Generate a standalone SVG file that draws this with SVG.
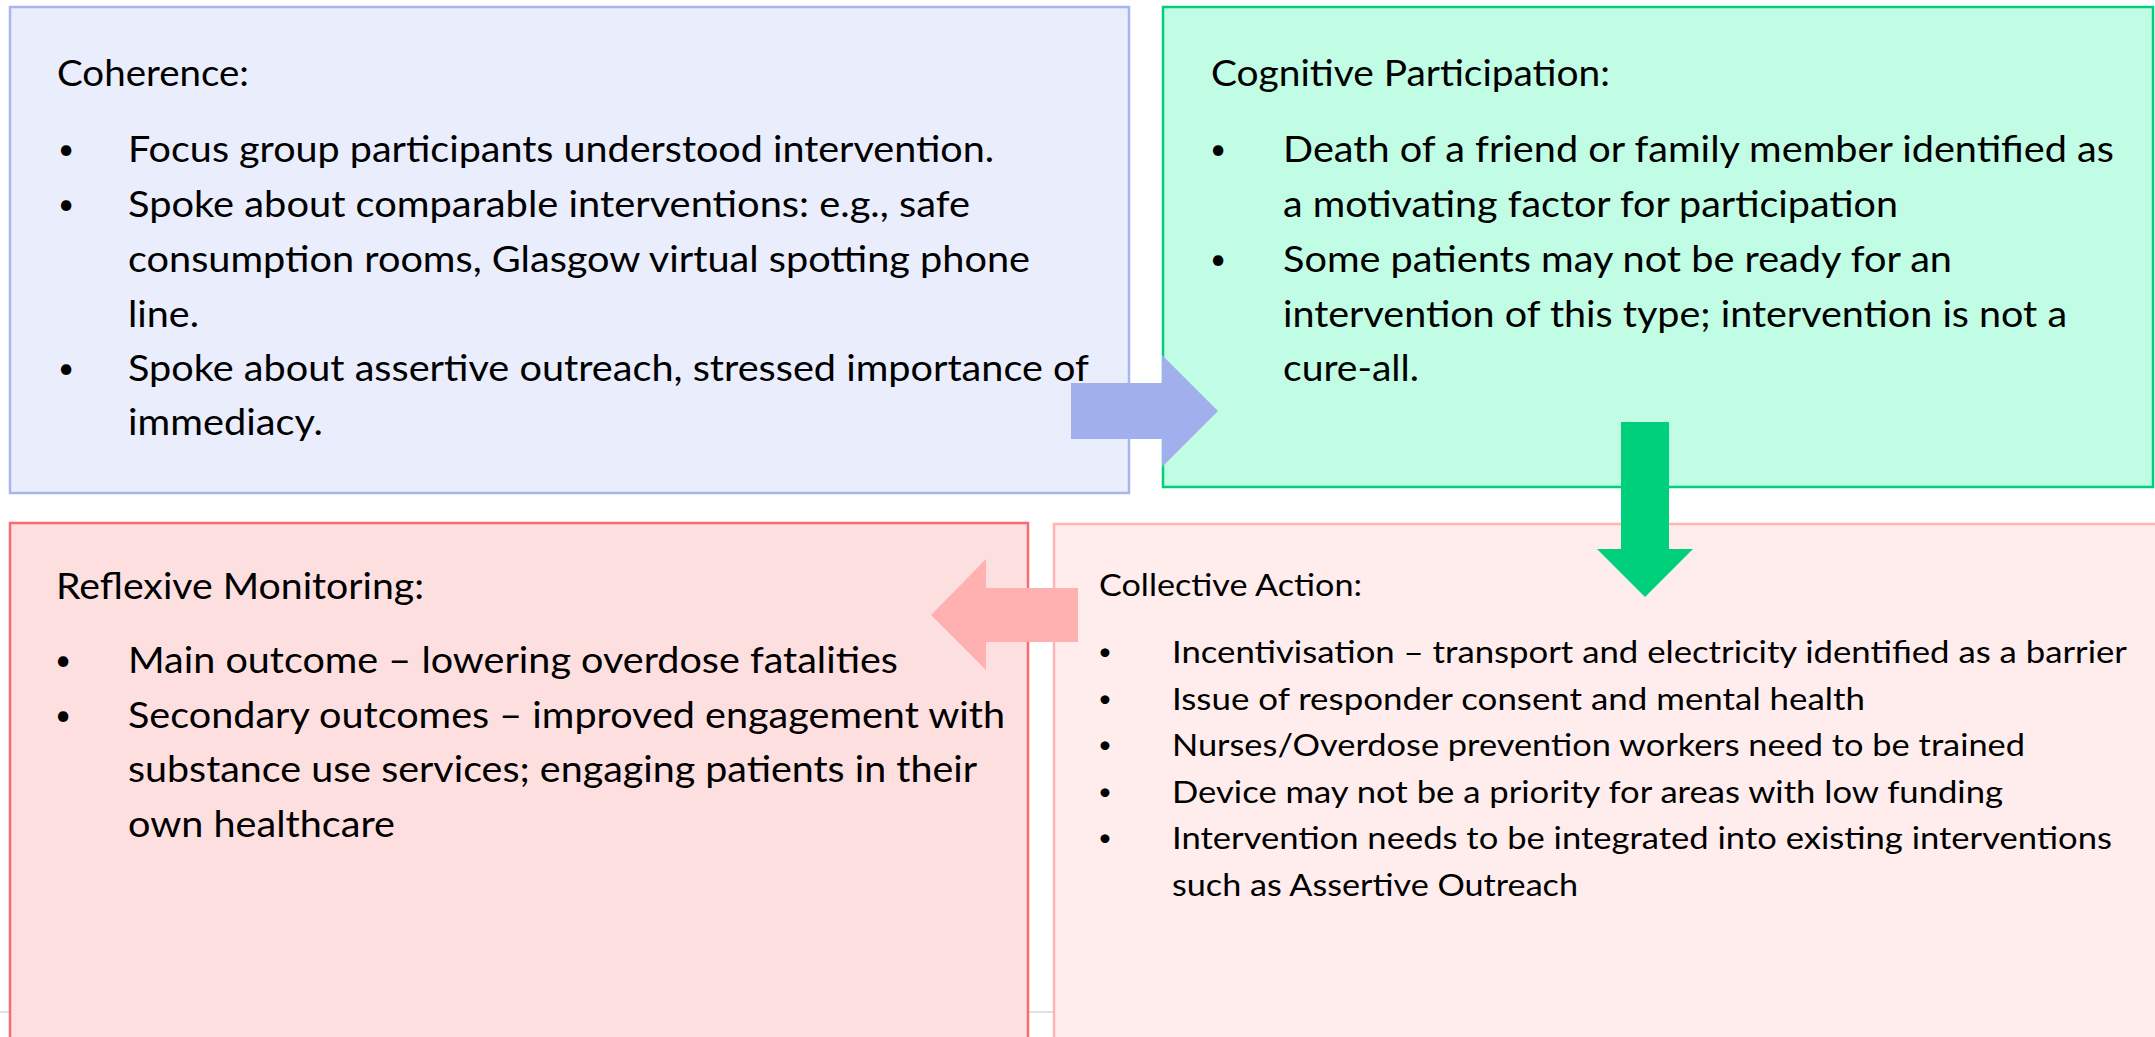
<svg xmlns="http://www.w3.org/2000/svg" width="2155" height="1037" viewBox="0 0 2155 1037">
  <style>
    .t { font-family: Lato, "Open Sans", "Liberation Sans", sans-serif; fill: #000; }
    .big { font-size: 37px; }
    .small { font-size: 31.5px; }
    .b { font-family: Lato, "Open Sans", "Liberation Sans", sans-serif; fill: #000; text-anchor: middle; }
    .bb { font-size: 28px; }
    .bs { font-size: 24px; }
    .box { stroke-width: 2.5; }
  </style>
  <rect x="0" y="0" width="2155" height="1037" fill="#ffffff"/>
  <!-- faint slide edge behind the lower boxes -->
  <line x1="0" y1="1012" x2="1060" y2="1012" stroke="#e2e2e2" stroke-width="2"/>

  <g id="coherence">
    <rect class="box" x="10" y="7" width="1119" height="486" fill="#eaedfb" stroke="#a7b6ee"/>
    <text class="t big" x="57" y="86" textLength="192" lengthAdjust="spacingAndGlyphs">Coherence:</text>
    <text class="b bb" x="66" y="159">•</text>
    <text class="t big" x="128" y="162" textLength="866" lengthAdjust="spacingAndGlyphs">Focus group participants understood intervention.</text>
    <text class="b bb" x="66" y="214">•</text>
    <text class="t big" x="128" y="217" textLength="842" lengthAdjust="spacingAndGlyphs">Spoke about comparable interventions: e.g., safe</text>
    <text class="t big" x="128" y="272" textLength="902" lengthAdjust="spacingAndGlyphs">consumption rooms, Glasgow virtual spotting phone</text>
    <text class="t big" x="128" y="327" textLength="71" lengthAdjust="spacingAndGlyphs">line.</text>
    <text class="b bb" x="66" y="378">•</text>
    <text class="t big" x="128" y="381" textLength="961" lengthAdjust="spacingAndGlyphs">Spoke about assertive outreach, stressed importance of</text>
    <text class="t big" x="128" y="435" textLength="195" lengthAdjust="spacingAndGlyphs">immediacy.</text>
  </g>

  <g id="cognitive-participation">
    <rect class="box" x="1163" y="7" width="990" height="480" fill="#c1fde4" stroke="#00d07c"/>
    <text class="t big" x="1211" y="86" textLength="399" lengthAdjust="spacingAndGlyphs">Cognitive Participation:</text>
    <text class="b bb" x="1218" y="159">•</text>
    <text class="t big" x="1283" y="162" textLength="831" lengthAdjust="spacingAndGlyphs">Death of a friend or family member identified as</text>
    <text class="t big" x="1283" y="217" textLength="615" lengthAdjust="spacingAndGlyphs">a motivating factor for participation</text>
    <text class="b bb" x="1218" y="269">•</text>
    <text class="t big" x="1283" y="272" textLength="669" lengthAdjust="spacingAndGlyphs">Some patients may not be ready for an</text>
    <text class="t big" x="1283" y="327" textLength="784" lengthAdjust="spacingAndGlyphs">intervention of this type; intervention is not a</text>
    <text class="t big" x="1283" y="381" textLength="136" lengthAdjust="spacingAndGlyphs">cure-all.</text>
  </g>

  <g id="reflexive-monitoring">
    <rect class="box" x="10" y="523" width="1018" height="530" fill="#fddfe0" stroke="#f96b6e"/>
    <text class="t big" x="56" y="599" textLength="368" lengthAdjust="spacingAndGlyphs">Reflexive Monitoring:</text>
    <text class="b bb" x="63" y="670">•</text>
    <text class="t big" x="128" y="673" textLength="770" lengthAdjust="spacingAndGlyphs">Main outcome – lowering overdose fatalities</text>
    <text class="b bb" x="63" y="725">•</text>
    <text class="t big" x="128" y="728" textLength="877" lengthAdjust="spacingAndGlyphs">Secondary outcomes – improved engagement with</text>
    <text class="t big" x="128" y="782" textLength="849" lengthAdjust="spacingAndGlyphs">substance use services; engaging patients in their</text>
    <text class="t big" x="128" y="837" textLength="267" lengthAdjust="spacingAndGlyphs">own healthcare</text>
  </g>

  <g id="collective-action">
    <rect class="box" x="1054" y="524" width="1120" height="530" fill="#ffeded" stroke="#ffb3b3"/>
    <text class="t small" x="1099" y="596" textLength="263" lengthAdjust="spacingAndGlyphs">Collective Action:</text>
    <text class="b bs" x="1105" y="660">•</text>
    <text class="t small" x="1172" y="663" textLength="955" lengthAdjust="spacingAndGlyphs">Incentivisation – transport and electricity identified as a barrier</text>
    <text class="b bs" x="1105" y="707">•</text>
    <text class="t small" x="1172" y="710" textLength="693" lengthAdjust="spacingAndGlyphs">Issue of responder consent and mental health</text>
    <text class="b bs" x="1105" y="753">•</text>
    <text class="t small" x="1172" y="756" textLength="853" lengthAdjust="spacingAndGlyphs">Nurses/Overdose prevention workers need to be trained</text>
    <text class="b bs" x="1105" y="800">•</text>
    <text class="t small" x="1172" y="803" textLength="831" lengthAdjust="spacingAndGlyphs">Device may not be a priority for areas with low funding</text>
    <text class="b bs" x="1105" y="846">•</text>
    <text class="t small" x="1172" y="849" textLength="940" lengthAdjust="spacingAndGlyphs">Intervention needs to be integrated into existing interventions</text>
    <text class="t small" x="1172" y="896" textLength="406" lengthAdjust="spacingAndGlyphs">such as Assertive Outreach</text>
  </g>

  <!-- block arrows linking the four stages -->
  <g id="connectors">
    <polygon fill="#a1b0ec" points="1071,383 1162,383 1162,355 1218,411 1162,467 1162,439 1071,439"/>
    <polygon fill="#00d07c" points="1621,422 1669,422 1669,549 1693,549 1645,597 1597,549 1621,549"/>
    <polygon fill="#ffb0b1" points="1078,588 986,588 986,559 931,615 986,670 986,642 1078,642"/>
  </g>
</svg>
